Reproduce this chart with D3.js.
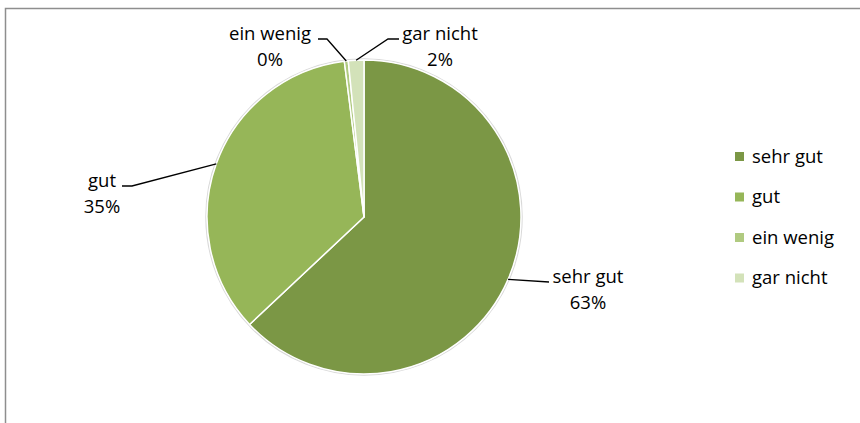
<!DOCTYPE html>
<html>
<head>
<meta charset="utf-8">
<script src="https://cdn.jsdelivr.net/npm/d3@7"></script>
<style>
  body { margin: 0; background: #fff; }
  svg { display: block; font-family: "Open Sans", "Liberation Sans", sans-serif; }
</style>
</head>
<body>
<div id="chart"></div>
<script>
// data
const categories = ['sehr gut', 'gut', 'ein wenig', 'gar nicht'];
const values = [63, 35, 0.4, 1.6];
const colors = ['#7b9745', '#96b658', '#b0ca80', '#d3e2b9'];

// label layout: text centre x, first baseline y, and leader points (elbow, end)
const labelLayout = [
  { tx: 588, ty: 283, pts: [[549, 282]] },
  { tx: 102, ty: 187, pts: [[132, 186], [122, 186]] },
  { tx: 270, ty: 40, pts: [[327, 39], [318, 39]] },
  { tx: 440, ty: 40, pts: [[388, 39], [399, 39]] }
];

const W = 860, H = 423;
const cx = 364, cy = 217, r = 157;
const fontSize = 18.5;

const svg = d3.select('#chart').append('svg')
  .attr('width', W)
  .attr('height', H);

// chart frame (runs off the right/bottom edge in the reference)
svg.append('rect')
  .attr('x', 5.5).attr('y', 8.5)
  .attr('width', 1000).attr('height', 1000)
  .attr('fill', 'none')
  .attr('stroke', '#8e8e8e')
  .attr('stroke-width', 1.5);

const total = d3.sum(values);
const data = categories.map((c, i) => ({ name: c, value: values[i], i }));

const pie = d3.pie().value(d => d.value).sort(null);
const arcs = pie(data);
const arc = d3.arc().innerRadius(0).outerRadius(r);
const edge = d3.arc().innerRadius(r).outerRadius(r);

const g = svg.append('g').attr('transform', `translate(${cx},${cy})`);

g.append('circle')
  .attr('r', r + 1)
  .attr('fill', 'none')
  .attr('stroke', '#d9d9d9')
  .attr('stroke-width', 1.5);

g.selectAll('path.slice')
  .data(arcs)
  .join('path')
  .attr('class', 'slice')
  .attr('d', arc)
  .attr('fill', d => colors[d.data.i])
  .attr('stroke', '#fff')
  .attr('stroke-width', 1.5)
  .attr('stroke-linejoin', 'round');

// leader lines
const line = d3.line();
svg.selectAll('path.leader')
  .data(arcs)
  .join('path')
  .attr('class', 'leader')
  .attr('d', d => {
    const p = edge.centroid(d);
    return line([[p[0] + cx, p[1] + cy], ...labelLayout[d.data.i].pts]);
  })
  .attr('fill', 'none')
  .attr('stroke', '#000')
  .attr('stroke-width', 1.3);

// labels
const labels = svg.selectAll('text.lbl')
  .data(arcs)
  .join('text')
  .attr('class', 'lbl')
  .attr('text-anchor', 'middle')
  .attr('font-size', fontSize)
  .attr('fill', '#000');
labels.append('tspan')
  .attr('x', d => labelLayout[d.data.i].tx)
  .attr('y', d => labelLayout[d.data.i].ty)
  .text(d => d.data.name);
labels.append('tspan')
  .attr('x', d => labelLayout[d.data.i].tx)
  .attr('y', d => labelLayout[d.data.i].ty + 26)
  .text(d => Math.round(d.data.value / total * 100) + '%');

// legend
const legend = svg.append('g').attr('transform', 'translate(735,152)');
const item = legend.selectAll('g')
  .data(categories)
  .join('g')
  .attr('transform', (d, i) => `translate(0,${i * 40.5})`);
item.append('rect')
  .attr('width', 9).attr('height', 9)
  .attr('fill', (d, i) => colors[i]);
item.append('text')
  .attr('x', 17)
  .attr('y', 10.5)
  .attr('font-size', fontSize)
  .attr('fill', '#000')
  .text(d => d);
</script>
</body>
</html>
